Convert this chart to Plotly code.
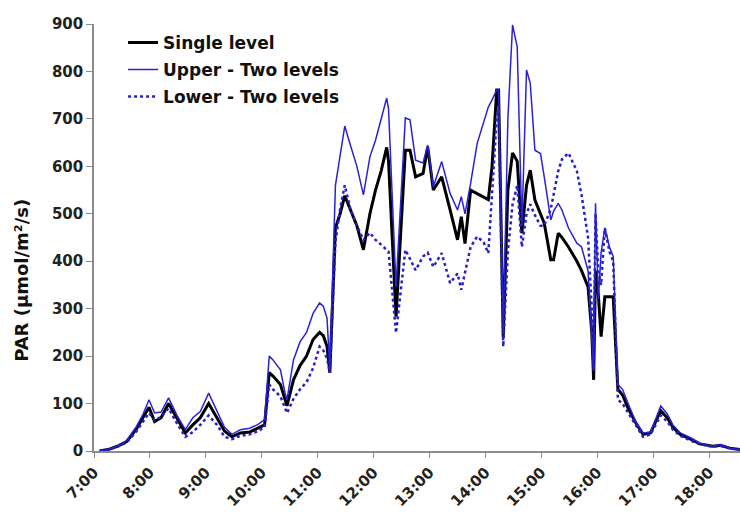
import plotly.graph_objects as go

times = ["07:06", "07:15", "07:25", "07:35", "07:45", "07:52", "07:59", "08:05", "08:12", "08:20",
         "08:29", "08:38", "08:46", "08:54", "09:03", "09:12", "09:20", "09:28", "09:37", "09:47",
         "09:56", "10:03", "10:08", "10:12", "10:20", "10:25", "10:27", "10:34", "10:41", "10:48",
         "10:55", "11:02", "11:06", "11:10", "11:13", "11:19", "11:24", "11:29", "11:35", "11:42",
         "11:49", "11:56", "12:02", "12:08", "12:14", "12:16", "12:24", "12:34", "12:39", "12:45",
         "12:53", "12:58", "13:04", "13:13", "13:22", "13:30", "13:34", "13:38", "13:44", "13:51",
         "13:58", "14:03", "14:07", "14:12", "14:14", "14:19", "14:24", "14:29", "14:34", "14:39",
         "14:44", "14:48", "14:53", "14:59", "15:03", "15:10", "15:13", "15:18", "15:22", "15:29",
         "15:38", "15:43", "15:50", "15:54", "15:56", "15:58", "16:01", "16:04", "16:08", "16:13",
         "16:17", "16:22", "16:27", "16:33", "16:41", "16:49", "16:57", "17:08", "17:15", "17:21",
         "17:29", "17:40", "17:50", "18:04", "18:12", "18:22", "18:33"]

single = [0, 3, 10, 20, 45, 68, 92, 62, 70, 100,
          68, 38, 55, 70, 100, 70, 42, 30, 38, 40,
          48, 55, 165, 158, 140, 110, 95, 150, 180, 200,
          235, 250, 243, 220, 165, 470, 500, 538, 510, 475,
          424, 500, 550, 590, 640, 610, 283, 634, 634, 578,
          585, 641, 550, 578, 508, 445, 494, 437, 550, 543,
          535, 530, 600, 761, 761, 240, 550, 628, 611, 459,
          560, 592, 529, 500, 480, 403, 403, 459, 450, 430,
          400, 380, 346, 250, 150, 380, 330, 241, 325, 325,
          325, 130, 118, 90, 60, 35, 38, 85, 70, 50,
          35, 25, 15, 10, 12, 6, 3]

upper = [0, 3, 10, 22, 50, 75, 108, 80, 82, 112,
         75, 45, 70, 83, 122, 83, 50, 35, 45, 48,
         56, 66, 200, 192, 171, 122, 108, 192, 230, 250,
         290, 312, 305, 280, 170, 560, 620, 685, 645, 600,
         540, 620, 655, 700, 744, 720, 347, 702, 698, 613,
         607, 645, 557, 610, 543, 508, 536, 500, 564, 648,
         690, 725, 740, 761, 761, 250, 700, 898, 852, 473,
         803, 775, 634, 627, 578, 487, 505, 522, 508, 470,
         438, 430, 380, 241, 170, 522, 320, 418, 470, 430,
         410, 140, 130, 100, 62, 38, 40, 95, 78, 55,
         38, 28, 16, 10, 13, 6, 3]

lower = [0, 3, 9, 18, 40, 60, 80, 65, 72, 90,
         58, 30, 40, 55, 75, 55, 30, 25, 32, 35,
         42, 50, 140, 130, 115, 90, 80, 110, 130, 145,
         175, 220, 212, 195, 165, 440, 510, 560, 510, 475,
         445, 460, 445, 435, 425, 420, 249, 424, 405, 381,
         410, 418, 388, 417, 354, 374, 340, 374, 430, 452,
         440, 417, 550, 700, 720, 220, 420, 520, 560, 430,
         500, 520, 497, 475, 475, 510, 540, 590, 615, 628,
         590, 540, 450, 300, 170, 500, 380, 350, 470, 420,
         400, 108, 100, 80, 55, 30, 35, 75, 62, 45,
         32, 22, 14, 9, 11, 5, 3]

series_names = ["Single level", "Upper - Two levels", "Lower - Two levels"]
y_ticks = [0, 100, 200, 300, 400, 500, 600, 700, 800, 900]
y_title = "PAR (µmol/m²/s)"

DAY = "2024-01-01 "
x = [DAY + t for t in times]

FONT = "DejaVu Sans"
fig = go.Figure()
fig.add_trace(go.Scatter(x=x, y=single, mode="lines", name=series_names[0], legendgroup="a",
                         line=dict(color="#000000", width=3)))
fig.add_trace(go.Scatter(x=x, y=upper, mode="lines", name=series_names[1], legendgroup="b",
                         line=dict(color="#2a22d6", width=1.5)))
fig.add_trace(go.Scatter(x=x, y=lower, mode="lines", name=series_names[2], legendgroup="c",
                         line=dict(color="#2620c8", width=2.5, dash="dot")))

fig.add_annotation(text=y_title, xref="paper", yref="paper", x=-0.112, y=0.40,
                   xanchor="center", yanchor="middle", textangle=-90, showarrow=False,
                   font=dict(family=FONT, size=18, color="#111111", weight="bold"))

fig.update_layout(
    width=740, height=515,
    margin=dict(l=94, r=0, t=24, b=64),
    paper_bgcolor="white", plot_bgcolor="white",
    font=dict(family=FONT, color="#222222"),
    showlegend=True,
    legend=dict(x=0.045, y=0.998, xanchor="left", yanchor="top",
                bgcolor="rgba(0,0,0,0)", tracegroupgap=2,
                font=dict(family=FONT, size=17, color="#111111", weight="bold")),
    xaxis=dict(
        type="date",
        range=[DAY + "07:00", DAY + "18:33"],
        tick0=DAY + "07:00", dtick=3600000, tickformat="%-H:%M",
        tickangle=-45,
        showgrid=False, zeroline=False,
        showline=True, linecolor="#8c8c8c", linewidth=1.5,
        ticks="outside", ticklen=5, tickcolor="#8c8c8c",
        tickfont=dict(family=FONT, size=15, color="#222222", weight="bold"),
    ),
    yaxis=dict(
        range=[0, 900], tickvals=y_ticks,
        showgrid=False, zeroline=False,
        showline=True, linecolor="#8c8c8c", linewidth=1.5,
        ticks="outside", ticklen=6, tickcolor="#8c8c8c",
        tickfont=dict(family=FONT, size=15, color="#222222", weight="bold"),
    ),
)

fig.write_html("out.html")
